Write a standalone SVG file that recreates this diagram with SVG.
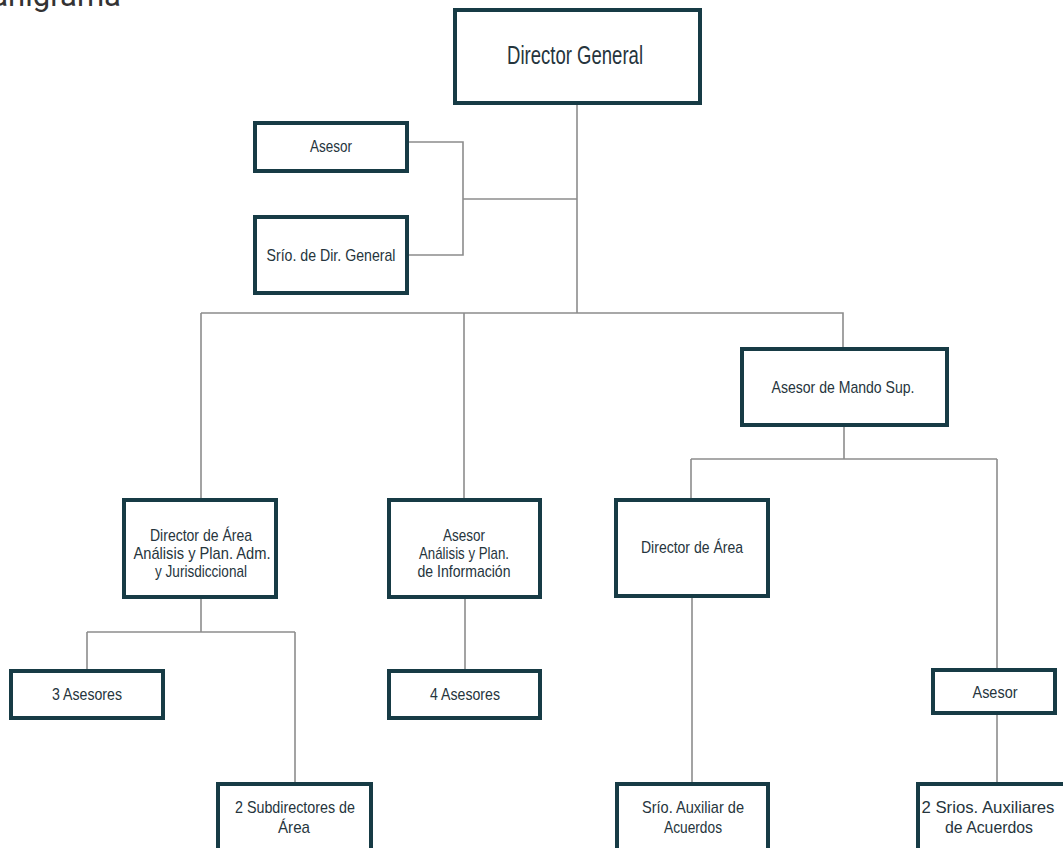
<svg xmlns="http://www.w3.org/2000/svg" width="1063" height="848" viewBox="0 0 1063 848">
<style>
.box{fill:#ffffff;stroke:#173b45;stroke-width:4}
.lbl{font-family:"Liberation Sans",Arial,sans-serif;font-size:17px;fill:#26353d;text-anchor:middle}
.big{font-size:25px}
.conn{fill:none;stroke:#8c8c8c;stroke-width:1.6}
.title{font-family:"Roboto","Liberation Sans",sans-serif;font-size:31px;fill:#333333;text-anchor:end}
</style>
<rect x="0" y="0" width="1063" height="848" fill="#ffffff"/>
<text class="title" x="121" y="6">Organigrama</text>
<g id="connectors">
<path class="conn" d="M577 103 V313"/>
<path class="conn" d="M407 142 H463 V255 H407"/>
<path class="conn" d="M463 199 H577"/>
<path class="conn" d="M201 313 H843 V349"/>
<path class="conn" d="M201 313 V500"/>
<path class="conn" d="M464 313 V500"/>
<path class="conn" d="M844 425 V459"/>
<path class="conn" d="M691 459 H997"/>
<path class="conn" d="M691 459 V500"/>
<path class="conn" d="M997 459 V670"/>
<path class="conn" d="M997 713 V784"/>
<path class="conn" d="M201 597 V632"/>
<path class="conn" d="M87 632 H295"/>
<path class="conn" d="M87 632 V671"/>
<path class="conn" d="M295 632 V784"/>
<path class="conn" d="M465 597 V671"/>
<path class="conn" d="M692 596 V784"/>
</g>
<g id="n-director-general">
<rect class="box" x="455" y="10" width="245" height="93"/>
<text class="lbl big" x="575" y="64" textLength="136" lengthAdjust="spacingAndGlyphs">Director General</text>
</g>
<g id="n-asesor-top">
<rect class="box" x="255" y="123" width="152" height="48"/>
<text class="lbl" x="331" y="152" textLength="42" lengthAdjust="spacingAndGlyphs">Asesor</text>
</g>
<g id="n-srio-dir-general">
<rect class="box" x="255" y="217" width="152" height="76"/>
<text class="lbl" x="331" y="261" textLength="129" lengthAdjust="spacingAndGlyphs">Srío. de Dir. General</text>
</g>
<g id="n-asesor-mando-sup">
<rect class="box" x="742" y="349" width="205" height="76"/>
<text class="lbl" x="843" y="393" textLength="143" lengthAdjust="spacingAndGlyphs">Asesor de Mando Sup.</text>
</g>
<g id="n-director-area-left">
<rect class="box" x="124" y="500" width="152" height="97"/>
<text class="lbl" x="201" y="541" textLength="102" lengthAdjust="spacingAndGlyphs">Director de Área</text>
<text class="lbl" x="202" y="559" textLength="137" lengthAdjust="spacingAndGlyphs">Análisis y Plan. Adm.</text>
<text class="lbl" x="201" y="577" textLength="92" lengthAdjust="spacingAndGlyphs">y Jurisdiccional</text>
</g>
<g id="n-asesor-analisis">
<rect class="box" x="389" y="500" width="151" height="97"/>
<text class="lbl" x="464" y="541" textLength="42" lengthAdjust="spacingAndGlyphs">Asesor</text>
<text class="lbl" x="464" y="559" textLength="90" lengthAdjust="spacingAndGlyphs">Análisis y Plan.</text>
<text class="lbl" x="464" y="577" textLength="93" lengthAdjust="spacingAndGlyphs">de Información</text>
</g>
<g id="n-director-area-right">
<rect class="box" x="616" y="500" width="152" height="96"/>
<text class="lbl" x="692" y="553" textLength="102" lengthAdjust="spacingAndGlyphs">Director de Área</text>
</g>
<g id="n-3-asesores">
<rect class="box" x="11" y="671" width="152" height="47"/>
<text class="lbl" x="87" y="700" textLength="70" lengthAdjust="spacingAndGlyphs">3 Asesores</text>
</g>
<g id="n-4-asesores">
<rect class="box" x="389" y="671" width="151" height="47"/>
<text class="lbl" x="465" y="700" textLength="70" lengthAdjust="spacingAndGlyphs">4 Asesores</text>
</g>
<g id="n-asesor-right">
<rect class="box" x="933" y="670" width="122" height="43"/>
<text class="lbl" x="995" y="698" textLength="45" lengthAdjust="spacingAndGlyphs">Asesor</text>
</g>
<g id="n-2-subdirectores">
<rect class="box" x="218" y="784" width="153" height="80"/>
<text class="lbl" x="295" y="813" textLength="120" lengthAdjust="spacingAndGlyphs">2 Subdirectores de</text>
<text class="lbl" x="294" y="833" textLength="32" lengthAdjust="spacingAndGlyphs">Área</text>
</g>
<g id="n-srio-auxiliar">
<rect class="box" x="617" y="784" width="151" height="80"/>
<text class="lbl" x="693" y="813" textLength="102" lengthAdjust="spacingAndGlyphs">Srío. Auxiliar de</text>
<text class="lbl" x="693" y="833" textLength="58" lengthAdjust="spacingAndGlyphs">Acuerdos</text>
</g>
<g id="n-2-srios-auxiliares">
<rect class="box" x="918" y="784" width="150" height="80"/>
<text class="lbl" x="988" y="813" textLength="133" lengthAdjust="spacingAndGlyphs">2 Srios. Auxiliares</text>
<text class="lbl" x="989" y="833" textLength="88" lengthAdjust="spacingAndGlyphs">de Acuerdos</text>
</g>
</svg>
